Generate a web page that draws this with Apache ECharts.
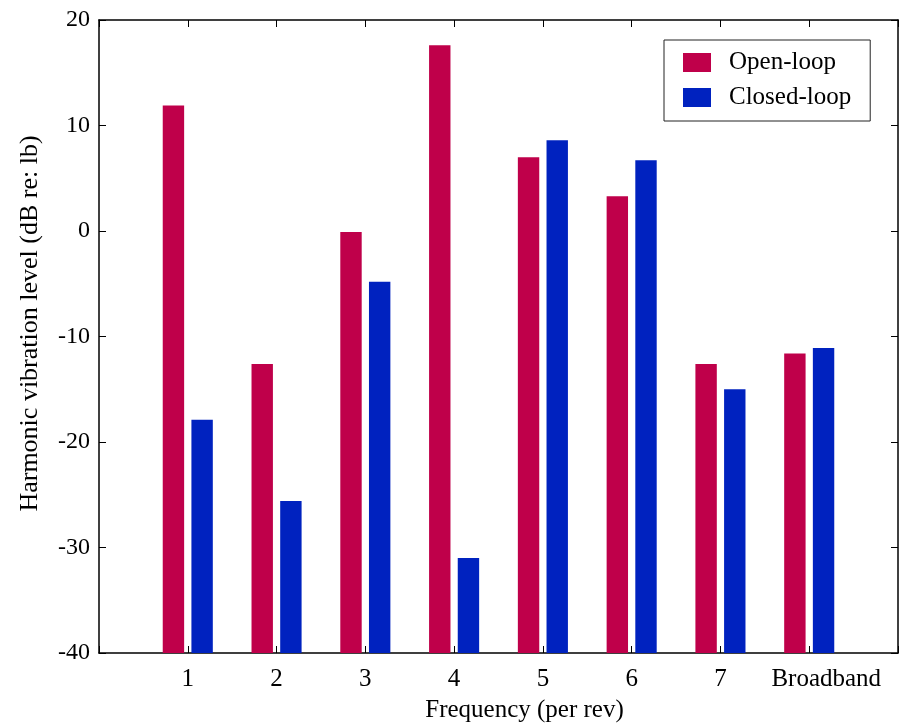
<!DOCTYPE html>
<html><head><meta charset="utf-8">
<script src="https://cdn.jsdelivr.net/npm/echarts@6/dist/echarts.min.js"></script>
<style>html,body{margin:0;padding:0;background:#fff}#c{width:902px;height:724px}</style>
</head><body><div id="c"></div>
<script>
const categories = ['1', '2', '3', '4', '5', '6', '7', 'Broadband'];
const openLoop = [11.9, -12.6, -0.1, 17.6, 7.0, 3.3, -12.6, -11.6];
const closedLoop = [-17.9, -25.6, -4.8, -31.0, 8.6, 6.7, -15.0, -11.1];
const seriesNames = ['Open-loop', 'Closed-loop'];

const FONT = 'Liberation Serif';
const toPairs = arr => arr.map((v, i) => [i + 1, v]);
const chart = echarts.init(document.getElementById('c'), null, { renderer: 'canvas' });
const tickStyle = { show: true, inside: true, length: 7, lineStyle: { color: '#000', width: 1 } };
const lineStyle = { show: true, onZero: false, lineStyle: { color: '#000', width: 1.5 } };
chart.setOption({
  animation: false,
  backgroundColor: '#fff',
  textStyle: { fontFamily: FONT },
  grid: { left: 99, right: 4, top: 20, bottom: 71, containLabel: false, outerBoundsMode: 'none' },
  legend: {
    left: 664, top: 40, orient: 'vertical',
    padding: [10, 19, 11, 19],
    itemWidth: 28, itemHeight: 19, itemGap: 10,
    icon: 'rect',
    borderColor: '#222', borderWidth: 1,
    textStyle: { fontFamily: FONT, fontSize: 25, color: '#000', padding: [0, 0, 0, 13] },
    data: seriesNames
  },
  xAxis: [{
    type: 'value', min: 0, max: 9, interval: 1, position: 'bottom',
    axisLine: lineStyle, axisTick: tickStyle, splitLine: { show: false },
    axisLabel: { fontFamily: FONT, fontSize: 25, color: '#000', margin: 14,
      formatter: v => v === categories.length ? '{wide|' + categories[v - 1] + '}' : (categories[v - 1] || ''),
      rich: { wide: { fontFamily: FONT, fontSize: 25, color: '#000', padding: [0, 0, 0, 34] } } },
    name: 'Frequency (per rev)', nameLocation: 'middle', nameGap: 45,
    nameTextStyle: { fontFamily: FONT, fontSize: 25, color: '#000', padding: [0, 0, 0, 52] }
  }, {
    type: 'value', min: 0, max: 9, interval: 1, position: 'top',
    axisLine: lineStyle, axisTick: tickStyle, axisLabel: { show: false }, splitLine: { show: false }
  }],
  yAxis: [{
    type: 'value', min: -40, max: 20, interval: 10, startValue: -40,
    axisLine: lineStyle, axisTick: tickStyle, splitLine: { show: false },
    axisLabel: { fontFamily: FONT, fontSize: 24, color: '#000', margin: 9 },
    name: 'Harmonic vibration level (dB re: lb)', nameLocation: 'middle', nameGap: 56,
    nameTextStyle: { fontFamily: FONT, fontSize: 26, color: '#000', padding: [0, 0, 0, 26] }
  }, {
    type: 'value', min: -40, max: 20, interval: 10, position: 'right',
    axisLine: lineStyle, axisTick: tickStyle, axisLabel: { show: false }, splitLine: { show: false }
  }],
  series: [{
    name: seriesNames[0], type: 'bar', xAxisIndex: 0, yAxisIndex: 0,
    barWidth: 21.4, barGap: '34%',
    itemStyle: { color: '#BF004A' },
    data: toPairs(openLoop)
  }, {
    name: seriesNames[1], type: 'bar', xAxisIndex: 0, yAxisIndex: 0,
    barWidth: 21.4, barGap: '34%',
    itemStyle: { color: '#0022BF' },
    data: toPairs(closedLoop)
  }]
});
</script></body></html>
